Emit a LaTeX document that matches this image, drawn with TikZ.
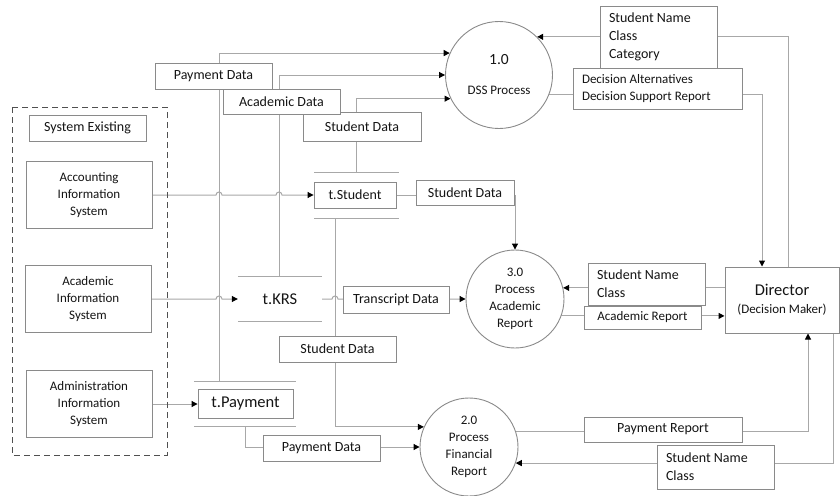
\documentclass[tikz,border=0pt]{standalone}
\usepackage{fontspec}
\setmainfont{Carlito}
\usepackage{xcolor}
\usetikzlibrary{
    arrows.meta,
    positioning,
    backgrounds
}
\definecolor{linegray}{HTML}{A8A8A8}
\definecolor{boxgray}{HTML}{8A8A8A}
\definecolor{inkgray}{HTML}{151515}
\newcommand{\lab}{\fontsize{14}{18}\selectfont}
\newcommand{\sml}{\fontsize{13}{17}\selectfont}
\newcommand{\bigtxt}{\fontsize{16.5}{20}\selectfont}
\newcommand{\storelines}[1]{\draw[storeline] (#1.north west) -- (#1.north east) (#1.south west) -- (#1.south east);}
\tikzset{
    flow/.style={draw=linegray, line width=1pt, -{Triangle[length=6pt,width=6pt,color=black]}},
    storeline/.style={draw=linegray, line width=1pt},
    databox/.style={draw=boxgray, fill=white, line width=0.9pt, text=inkgray, inner sep=0pt, font=\lab},
    listbox/.style={align=flush left, inner xsep=9pt},
    sysbox/.style={databox, align=center, font=\sml, minimum width=126pt, minimum height=67pt},
    process/.style={circle, draw=boxgray, fill=white, line width=0.9pt, text=inkgray, inner sep=0pt, align=center, font=\sml},
    storearea/.style={inner sep=0pt}
}
\begin{document}
\begin{tikzpicture}[x=1pt, y=-1pt]
\useasboundingbox (0,0) rectangle (840,495);

% existing systems
\draw[draw=inkgray!75, line width=1pt, dash pattern=on 6pt off 4pt] (12,107) rectangle (167,455);
\node[databox, minimum width=117pt, minimum height=26pt] (sysex) at (87.5,128) {System Existing};
\node[sysbox] (acc) at (89,195) {Accounting\\Information\\System};
\node[sysbox] (aca) at (88,299) {Academic\\Information\\System};
\node[sysbox] (adm) at (89,404) {Administration\\Information\\System};

% data stores
\node[storearea, minimum width=84pt, minimum height=45pt] (tstudS) at (356.5,195.5) {};
\node[databox, minimum width=82pt, minimum height=26pt] (tstud) at (355,195) {t.Student};
\storelines{tstudS}
\node[storearea, minimum width=84pt, minimum height=44pt] (tkrsS) at (280,299) {};
\node[text=inkgray, font=\bigtxt, inner sep=0pt] (tkrs) at (tkrsS) {t.KRS};
\storelines{tkrsS}
\node[storearea, minimum width=102pt, minimum height=44pt] (tpayS) at (245,404) {};
\node[databox, minimum width=95pt, minimum height=29pt, font=\bigtxt] (tpay) at (245.5,404) {t.Payment};
\storelines{tpayS}

% processes
\node[process, minimum size=107pt] (p1) at (499,75) {{\fontsize{15.5}{18}\selectfont 1.0}\\[13pt]DSS Process};
\node[process, minimum size=98pt] (p3) at (515,299) {3.0\\Process\\Academic\\Report};
\node[process, minimum size=98pt] (p2) at (469,447) {2.0\\Process\\Financial\\Report};

% terminator
\node[databox, minimum width=114pt, minimum height=66pt, align=center, line width=1pt] (dir) at (782,300) {{\bigtxt Director}\\{\sml (Decision Maker)}};

% flow labels
\node[databox, minimum width=118pt, minimum height=29pt] (lStu) at (362,126.5) {Student Data};
\node[databox, minimum width=117pt, minimum height=25pt] (lAca) at (281.5,101.5) {Academic Data};
\node[databox, minimum width=117pt, minimum height=26pt] (lPay) at (213.5,76) {Payment Data};
\node[databox, minimum width=98pt, minimum height=25pt] (lStu2) at (465,192.5) {Student Data};
\node[databox, minimum width=106pt, minimum height=27pt] (lTrans) at (396,299.5) {Transcript Data};
\node[databox, minimum width=117pt, minimum height=26pt] (lStu3) at (337.5,349) {Student Data};
\node[databox, minimum width=117pt, minimum height=26pt] (lPay2) at (321.5,448) {Payment Data};
\node[databox, listbox, text width=99pt, minimum height=62pt] (lSNCC) at (658.5,37) {Student Name\\Class\\Category};
\node[databox, listbox, text width=151pt, minimum height=41pt, font=\sml] (lDec) at (657.5,88.5) {Decision Alternatives\\Decision Support Report};
\node[databox, listbox, text width=99pt, minimum height=42pt] (lSNC1) at (646.5,284) {Student Name\\Class};
\node[databox, minimum width=117pt, minimum height=23pt, font=\sml] (lAcaRep) at (642.5,317.5) {Academic Report};
\node[databox, minimum width=158pt, minimum height=25pt] (lPayRep) at (663,429.5) {Payment Report};
\node[databox, listbox, text width=99pt, minimum height=44pt] (lSNC2) at (715.5,467) {Student Name\\Class};

\begin{pgfonlayer}{background}
% into the DSS process
\draw[flow] ([xshift=-26pt]tpayS.north) |- (p1.156);
\draw[flow] ([xshift=-1pt]tkrsS.north) |- (p1.west);
\draw[flow] (tstudS.north) |- (p1.206);
% from the existing systems
\draw[flow] (acc.east) -- (216,195) arc[start angle=180, end angle=0, radius=3pt]
    -- (276,195) arc[start angle=180, end angle=0, radius=3pt] -- (tstud.west);
\draw[flow] (aca.east) -- (216,299) arc[start angle=180, end angle=0, radius=3pt] -- (tkrsS.west);
\draw[flow] (adm.east) -- (tpay.west);
% stores to reports
\draw[flow] (tstud.east) -| (p3.north);
\draw[flow] (tkrsS.east) -- (332,299) arc[start angle=180, end angle=0, radius=3pt] -- (p3.west);
\draw[flow] ([xshift=-21.5pt]tstudS.south) |- (p2.156);
\draw[flow] (tpayS.south) |- (p2.west);
% director
\draw[flow] (p1.339) -| ([xshift=-20pt]dir.north);
\draw[flow] ([xshift=6pt]dir.north) |- (p1.45);
\draw[flow] (p3.13 -| dir.west) -- (p3.13);
\draw[flow] (p3.340) -- (p3.340 -| dir.west);
\draw[flow] (p2.18) -| ([xshift=26pt]dir.south);
\draw[flow] ([xshift=51pt]dir.south) |- (p2.341);
\end{pgfonlayer}
\end{tikzpicture}
\end{document}
